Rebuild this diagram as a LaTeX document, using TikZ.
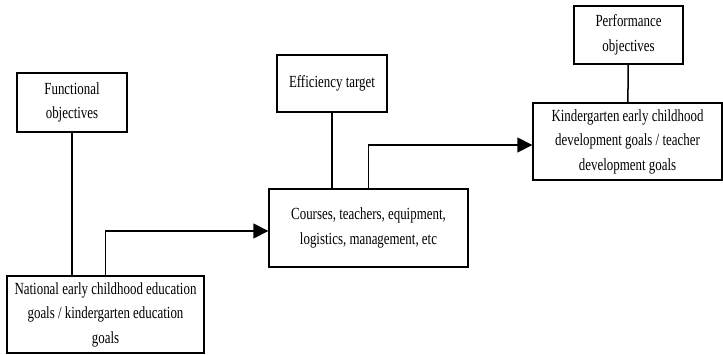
\documentclass[tikz,border=0pt]{standalone}
\usepackage{fontspec}
\setmainfont{Liberation Serif}[FakeStretch=0.76]
\usetikzlibrary{arrows.meta}
\tikzset{node distance=2cm, auto,
  goal/.style={draw, line width=1.4pt, align=center, inner sep=0pt,
    font=\fontsize{17}{24.5}\selectfont},
  flow/.style={line width=1.5pt},
  tip/.style={line width=1.5pt, -{Triangle[length=15pt,width=15pt]}}}

\begin{document}
\begin{tikzpicture}[x=1pt, y=-1pt]
  \useasboundingbox (0,0) rectangle (723,354);

  \node (F)[goal, minimum width=110pt, minimum height=59pt] at (72,102.5) {Functional\\objectives};
  \node (N)[goal, minimum width=197pt, minimum height=77pt] at (105.5,314.5) {National early childhood education\\goals / kindergarten education\\goals};
  \node (E)[goal, minimum width=110pt, minimum height=57pt] at (332,83.5) {Efficiency target};
  \node (C)[goal, minimum width=199pt, minimum height=78pt] at (368.5,228) {Courses, teachers, equipment,\\logistics, management, etc};
  \node (P)[goal, minimum width=109pt, minimum height=58pt] at (628.5,35) {Performance\\objectives};
  \node (K)[goal, minimum width=189pt, minimum height=77pt] at (627.5,141.5) {Kindergarten early childhood\\development goals / teacher\\development goals};

  %\draw[flow] (F) -- (N);
  \draw[flow] (F.south) -- (F.south |- N.north);
  \draw[tip] (N.north) |- ([yshift=-3pt]C.west);

  \draw[flow] (E.south) -- (E.south |- C.north);
  \draw[tip] (C.north) |- ([yshift=-3.5pt]K.west);

  \draw[flow] (P) -- (K);

\end{tikzpicture}
\end{document}
